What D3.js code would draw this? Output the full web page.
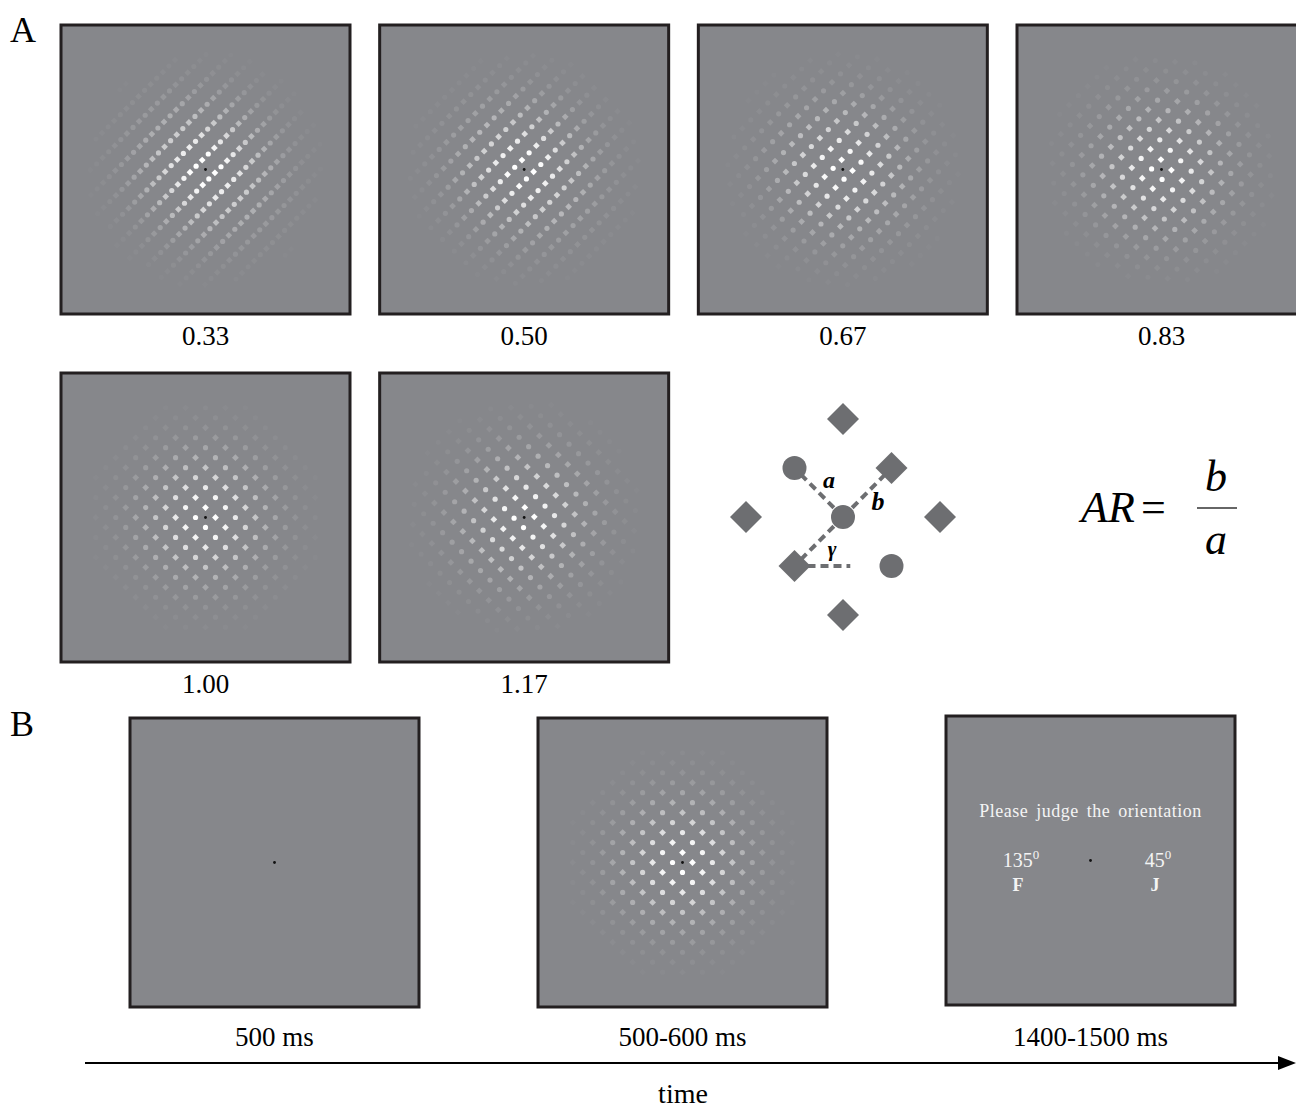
<!DOCTYPE html>
<meta charset="utf-8">
<style>
body { margin: 0; background: #fff; }
text { font-family: "Liberation Serif", "Times New Roman", serif; }
</style>
<svg width="1296" height="1109" class="top"></svg>
<script src="https://d3js.org/d3.v7.min.js"></script>
<script>

// aspect ratios shown in panel A (AR = b / a)
var ratios = [0.33, 0.50, 0.67, 0.83, 1.00, 1.17];
var ratioLabels = ["0.33", "0.50", "0.67", "0.83", "1.00", "1.17"];
// element spacing read off each stimulus (px): a along 135deg, b along 45deg
var spacingA = [18, 16.5, 15.4, 14.8, 14.1, 13.4];
var spacingB = [8.6, 10.2, 12, 13.2, 14.1, 15.2];

// trial sequence in panel B
var phases = ["fixation", "stimulus", "response"];
var phaseLabels = ["500 ms", "500-600 ms", "1400-1500 ms"];

// schematic lattice: offsets in half-cell units along x / y, shape
var schemaShapes = [
  {dx: 0, dy: -2, shape: "diamond"},
  {dx: -1, dy: -1, shape: "circle"},
  {dx: 1, dy: -1, shape: "diamond"},
  {dx: -2, dy: 0, shape: "diamond"},
  {dx: 0, dy: 0, shape: "circle"},
  {dx: 2, dy: 0, shape: "diamond"},
  {dx: -1, dy: 1, shape: "diamond"},
  {dx: 1, dy: 1, shape: "circle"},
  {dx: 0, dy: 2, shape: "diamond"}
];

var svg = d3.select(".top");
var bg = "#86878b", frame = "#231f20";
var panelSize = 289;
var sigma = 42;

var clipId = 0;
function stimulus(g, size, a, b) {
  var id = "clip" + (clipId++);
  g.append("clipPath").attr("id", id)
    .append("rect").attr("width", size).attr("height", size);
  var inner = g.append("g").attr("clip-path", "url(#" + id + ")");
  inner.append("rect").attr("width", size).attr("height", size).attr("fill", bg);
  if (a != null) {
    var av = [-a / Math.SQRT2, -a / Math.SQRT2], bv = [b / Math.SQRT2, -b / Math.SQRT2];
    var pts = [];
    var n = Math.ceil(160 / Math.min(a, b)) + 2;
    for (var i = -n; i < n; i++) for (var j = -n; j < n; j++) {
      var x = (i + 0.5) * av[0] + (j + 0.5) * bv[0];
      var y = (i + 0.5) * av[1] + (j + 0.5) * bv[1];
      var op = Math.exp(-(x * x + y * y) / (2 * sigma * sigma));
      if (op < 0.02) continue;
      pts.push({x: x, y: y, op: op, shape: (j % 2 + 2) % 2 === 0 ? "diamond" : "circle"});
    }
    var c = inner.append("g").attr("transform", "translate(" + size / 2 + "," + size / 2 + ")");
    c.selectAll("circle.el").data(pts.filter(function(d) { return d.shape === "circle"; }))
      .enter().append("circle").attr("class", "el")
      .attr("cx", function(d) { return d.x; })
      .attr("cy", function(d) { return d.y; })
      .attr("r", 2.6)
      .attr("fill", "#fff")
      .attr("fill-opacity", function(d) { return Math.min(1, d.op * 1.05); });
    c.selectAll("path.el").data(pts.filter(function(d) { return d.shape === "diamond"; }))
      .enter().append("path").attr("class", "el")
      .attr("d", function(d) { return "M" + d.x + "," + (d.y - 3.4) + "l3.4,3.4l-3.4,3.4l-3.4,-3.4z"; })
      .attr("fill", "#fff")
      .attr("fill-opacity", function(d) { return Math.min(1, d.op * 1.05); });
  }
  g.append("circle").attr("cx", size / 2).attr("cy", size / 2).attr("r", 1.4).attr("fill", "#111");
  g.append("rect").attr("x", 0).attr("y", 0).attr("width", size).attr("height", size)
    .attr("fill", "none").attr("stroke", frame).attr("stroke-width", 3);
}

// ---- panel A ----
var xA = d3.scalePoint().domain([0, 1, 2, 3]).range([61, 1017]);
var yA = d3.scalePoint().domain([0, 1]).range([25, 373]);

ratios.forEach(function(r, k) {
  var col = k % 4, row = Math.floor(k / 4);
  var g = svg.append("g").attr("transform", "translate(" + xA(col) + "," + yA(row) + ")");
  stimulus(g, panelSize, spacingA[k], spacingB[k]);
  svg.append("text")
    .attr("x", xA(col) + panelSize / 2)
    .attr("y", yA(row) + panelSize + 31)
    .attr("text-anchor", "middle")
    .attr("font-size", 27)
    .text(ratioLabels[k]);
});

svg.append("text").attr("x", 10).attr("y", 42).attr("font-size", 36).text("A");
svg.append("text").attr("x", 10).attr("y", 736).attr("font-size", 36).text("B");

// schematic
var sx = d3.scaleLinear().domain([-2, 2]).range([746, 940]);
var sy = d3.scaleLinear().domain([-2, 2]).range([419, 615]);
var shapeCol = "#6d6e71";
var sch = svg.append("g");

function sp(dx, dy) { return [sx(dx), sy(dy)]; }
var dashLines = [
  [sp(0, 0), sp(-1, -1)],
  [sp(0, 0), sp(1, -1)],
  [sp(0, 0), sp(-1, 1)],
  [sp(-1, 1), [sx(0.15), sy(1)]]
];
sch.selectAll("line").data(dashLines).enter().append("line")
  .attr("x1", function(d) { return d[0][0]; })
  .attr("y1", function(d) { return d[0][1]; })
  .attr("x2", function(d) { return d[1][0]; })
  .attr("y2", function(d) { return d[1][1]; })
  .attr("stroke", shapeCol).attr("stroke-width", 4).attr("stroke-dasharray", "8,5");

sch.selectAll("circle").data(schemaShapes.filter(function(d) { return d.shape === "circle"; }))
  .enter().append("circle")
  .attr("cx", function(d) { return sx(d.dx); })
  .attr("cy", function(d) { return sy(d.dy); })
  .attr("r", 12)
  .attr("fill", shapeCol);
sch.selectAll("path").data(schemaShapes.filter(function(d) { return d.shape === "diamond"; }))
  .enter().append("path")
  .attr("d", function(d) {
    var x = sx(d.dx), y = sy(d.dy), h = 16;
    return "M" + x + "," + (y - h) + "l" + h + "," + h + "l" + (-h) + "," + h + "l" + (-h) + "," + (-h) + "z";
  })
  .attr("fill", shapeCol);

sch.append("text").attr("x", 829).attr("y", 488).attr("font-size", 24)
  .attr("font-weight", "bold").attr("font-style", "italic").attr("text-anchor", "middle").text("a");
sch.append("text").attr("x", 878).attr("y", 510).attr("font-size", 26)
  .attr("font-weight", "bold").attr("font-style", "italic").attr("text-anchor", "middle").text("b");
sch.append("text").attr("x", 832).attr("y", 556).attr("font-size", 21)
  .attr("font-weight", "bold").attr("font-style", "italic").attr("text-anchor", "middle").text("γ");

// formula
svg.append("text").attr("x", 1081).attr("y", 522).attr("font-size", 44)
  .attr("font-style", "italic").text("AR");
svg.append("text").attr("x", 1141).attr("y", 522).attr("font-size", 44).text("=");
svg.append("line").attr("x1", 1197).attr("x2", 1237).attr("y1", 508).attr("y2", 508)
  .attr("stroke", "#333").attr("stroke-width", 1.5);
svg.append("text").attr("x", 1216).attr("y", 491).attr("font-size", 44)
  .attr("font-style", "italic").attr("text-anchor", "middle").text("b");
svg.append("text").attr("x", 1216).attr("y", 554).attr("font-size", 44)
  .attr("font-style", "italic").attr("text-anchor", "middle").text("a");

// ---- panel B ----
var xB = d3.scalePoint().domain(phases).range([130, 946]);
var yB = 718;

phases.forEach(function(p, k) {
  var g = svg.append("g").attr("transform", "translate(" + xB(p) + "," + (k === 2 ? yB - 2 : yB) + ")");
  if (p === "stimulus") stimulus(g, panelSize, spacingA[4], spacingB[4]);
  else stimulus(g, panelSize, null, null);
  if (p === "response") {
    var cx = panelSize / 2;
    g.append("text").attr("x", cx).attr("y", 101).attr("text-anchor", "middle")
      .attr("font-size", 18).attr("fill", "#f4f4f4").attr("letter-spacing", 0.5)
      .attr("word-spacing", 3).text("Please judge the orientation");
    var opts = [{x: 75, deg: "135", key: "F"}, {x: 212, deg: "45", key: "J"}];
    opts.forEach(function(o) {
      var t = g.append("text").attr("x", o.x).attr("y", 151).attr("text-anchor", "middle")
        .attr("font-size", 20).attr("fill", "#f4f4f4");
      t.append("tspan").text(o.deg);
      t.append("tspan").attr("dy", -8).attr("font-size", 13).text("0");
      g.append("text").attr("x", o.x - 3).attr("y", 175).attr("text-anchor", "middle")
        .attr("font-size", 18).attr("font-weight", "bold").attr("fill", "#f4f4f4").text(o.key);
    });
  }
  svg.append("text")
    .attr("x", xB(p) + panelSize / 2)
    .attr("y", 1046)
    .attr("text-anchor", "middle")
    .attr("font-size", 27)
    .text(phaseLabels[k]);
});

// time arrow
svg.append("line").attr("x1", 85).attr("x2", 1285).attr("y1", 1063).attr("y2", 1063)
  .attr("stroke", "#000").attr("stroke-width", 2);
svg.append("path").attr("d", "M1278,1056L1296,1063L1278,1070z").attr("fill", "#000");
svg.append("text").attr("x", 683).attr("y", 1103).attr("text-anchor", "middle")
  .attr("font-size", 28).text("time");

</script>
